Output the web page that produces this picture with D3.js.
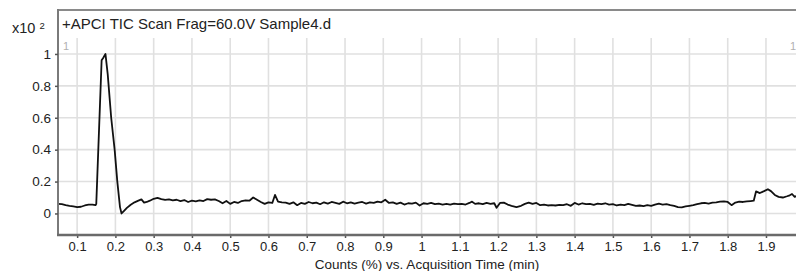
<!DOCTYPE html>
<html>
<head>
<meta charset="utf-8">
<script src="https://cdn.jsdelivr.net/npm/d3@7"></script>
<style>
  body { margin: 0; background: #fff; }
  text { font-family: "Liberation Sans", Arial, sans-serif; fill: #222; }
</style>
</head>
<body>
<div id="chart"></div>
<script>
// TIC trace (time in min, counts in units of x10^2 %)
var traceTime = [
  0.050, 0.060, 0.070, 0.080, 0.090, 0.100, 0.110, 0.120, 0.130, 0.140, 0.148, 0.150,
  0.164, 0.168, 0.174, 0.180, 0.189, 0.198, 0.205, 0.212, 0.216, 0.222, 0.230, 0.240,
  0.250, 0.260, 0.268, 0.275, 0.282, 0.290, 0.300, 0.310, 0.320, 0.330, 0.340, 0.350,
  0.360, 0.370, 0.380, 0.390, 0.400, 0.410, 0.420, 0.430, 0.440, 0.450, 0.460, 0.470,
  0.480, 0.490, 0.500, 0.510, 0.520, 0.530, 0.540, 0.550, 0.560, 0.570, 0.580, 0.590,
  0.600, 0.610, 0.617, 0.625, 0.635, 0.645, 0.655, 0.665, 0.675, 0.685, 0.695, 0.705,
  0.715, 0.725, 0.735, 0.745, 0.755, 0.765, 0.775, 0.785, 0.795, 0.805, 0.815, 0.825,
  0.835, 0.845, 0.855, 0.865, 0.875, 0.885, 0.895, 0.905, 0.915, 0.925, 0.935, 0.945,
  0.955, 0.965, 0.975, 0.985, 0.995, 1.005, 1.015, 1.025, 1.035, 1.045, 1.055, 1.065,
  1.075, 1.085, 1.095, 1.105, 1.115, 1.125, 1.132, 1.140, 1.150, 1.160, 1.170, 1.180,
  1.190, 1.196, 1.205, 1.215, 1.225, 1.235, 1.248, 1.260, 1.270, 1.280, 1.290, 1.300,
  1.310, 1.320, 1.330, 1.340, 1.350, 1.360, 1.370, 1.380, 1.390, 1.400, 1.410, 1.420,
  1.430, 1.440, 1.450, 1.460, 1.470, 1.480, 1.490, 1.500, 1.510, 1.520, 1.530, 1.540,
  1.550, 1.560, 1.570, 1.580, 1.590, 1.600, 1.610, 1.620, 1.630, 1.640, 1.650, 1.660,
  1.670, 1.680, 1.690, 1.700, 1.710, 1.720, 1.730, 1.740, 1.750, 1.760, 1.770, 1.780,
  1.790, 1.800, 1.810, 1.820, 1.830, 1.840, 1.850, 1.860, 1.868, 1.874, 1.884, 1.895,
  1.905, 1.913, 1.923, 1.933, 1.944, 1.955, 1.962, 1.968, 1.975, 1.980
];
var traceCounts = [
  0.060, 0.058, 0.052, 0.048, 0.045, 0.040, 0.042, 0.050, 0.055, 0.055, 0.052, 0.060,
  0.960, 0.975, 1.000, 0.870, 0.600, 0.400, 0.200, 0.040, 0.000, 0.015, 0.035, 0.055,
  0.070, 0.080, 0.088, 0.068, 0.072, 0.080, 0.092, 0.098, 0.090, 0.085, 0.088, 0.082,
  0.086, 0.078, 0.084, 0.072, 0.080, 0.076, 0.082, 0.078, 0.090, 0.086, 0.088, 0.078,
  0.064, 0.078, 0.060, 0.072, 0.066, 0.078, 0.082, 0.080, 0.100, 0.086, 0.072, 0.060,
  0.070, 0.066, 0.116, 0.074, 0.070, 0.068, 0.060, 0.070, 0.052, 0.066, 0.060, 0.072,
  0.064, 0.068, 0.058, 0.070, 0.062, 0.072, 0.066, 0.060, 0.074, 0.064, 0.070, 0.062,
  0.068, 0.072, 0.062, 0.070, 0.066, 0.074, 0.070, 0.086, 0.066, 0.070, 0.060, 0.068,
  0.056, 0.064, 0.062, 0.068, 0.050, 0.064, 0.060, 0.066, 0.058, 0.062, 0.056, 0.060,
  0.055, 0.062, 0.058, 0.060, 0.056, 0.066, 0.074, 0.060, 0.064, 0.058, 0.066, 0.060,
  0.064, 0.036, 0.066, 0.068, 0.056, 0.048, 0.040, 0.048, 0.060, 0.068, 0.060, 0.066,
  0.052, 0.056, 0.050, 0.052, 0.050, 0.054, 0.052, 0.058, 0.048, 0.066, 0.056, 0.064,
  0.058, 0.060, 0.054, 0.062, 0.058, 0.064, 0.056, 0.058, 0.050, 0.056, 0.052, 0.060,
  0.054, 0.048, 0.050, 0.046, 0.052, 0.048, 0.056, 0.062, 0.056, 0.058, 0.052, 0.048,
  0.040, 0.038, 0.044, 0.048, 0.052, 0.058, 0.064, 0.066, 0.062, 0.068, 0.070, 0.074,
  0.076, 0.072, 0.052, 0.068, 0.074, 0.072, 0.076, 0.078, 0.080, 0.138, 0.128, 0.140,
  0.152, 0.140, 0.116, 0.104, 0.100, 0.108, 0.114, 0.122, 0.104, 0.110
];

var xTicks = [0.1, 0.2, 0.3, 0.4, 0.5, 0.6, 0.7, 0.8, 0.9, 1, 1.1, 1.2, 1.3, 1.4, 1.5, 1.6, 1.7, 1.8, 1.9];
var yTicks = [0, 0.2, 0.4, 0.6, 0.8, 1];

var titleText = "+APCI TIC Scan Frag=60.0V Sample4.d";
var xAxisTitle = "Counts (%) vs. Acquisition Time (min)";

var width = 796, height = 271;
var margin = {top: 10, left: 58, bottom: 235, gridTop: 38};

var svg = d3.select("#chart").append("svg")
    .attr("width", width)
    .attr("height", height);

var x = d3.scaleLinear()
    .domain([0.05, 1.98])
    .range([margin.left, width + 0.6]);

var y = d3.scaleLinear()
    .domain([-0.135, 1.1])
    .range([margin.bottom, margin.gridTop]);

// grid
svg.append("g").attr("class", "grid-x")
    .selectAll("line")
    .data(xTicks)
    .join("line")
    .attr("x1", d => x(d)).attr("x2", d => x(d))
    .attr("y1", margin.gridTop).attr("y2", margin.bottom)
    .attr("stroke", "#e0e0e0")
    .attr("stroke-width", 1.6);

svg.append("g").attr("class", "grid-y")
    .selectAll("line")
    .data(yTicks)
    .join("line")
    .attr("x1", margin.left).attr("x2", width)
    .attr("y1", d => y(d)).attr("y2", d => y(d))
    .attr("stroke", "#e0e0e0")
    .attr("stroke-width", 1.6);

// the trace
var line = d3.line()
    .x((d, i) => x(traceTime[i]))
    .y(d => y(d));

svg.append("path")
    .datum(traceCounts)
    .attr("d", line)
    .attr("fill", "none")
    .attr("stroke", "#111")
    .attr("stroke-width", 1.8)
    .attr("stroke-linejoin", "round");

// frame
svg.append("line")
    .attr("x1", margin.left).attr("x2", width)
    .attr("y1", margin.top).attr("y2", margin.top)
    .attr("stroke", "#8a8a8a").attr("stroke-width", 2);

svg.append("line")
    .attr("x1", margin.left).attr("x2", margin.left)
    .attr("y1", margin.top - 1).attr("y2", margin.bottom)
    .attr("stroke", "#7a7a7a").attr("stroke-width", 2);

// axes
var yAxis = d3.axisLeft(y)
    .tickValues(yTicks)
    .tickSize(3)
    .tickPadding(4)
    .tickFormat(d => d3.format("~g")(d));

var gy = svg.append("g")
    .attr("transform", "translate(" + margin.left + ",0)")
    .call(yAxis);
gy.select(".domain").remove();
gy.selectAll(".tick line").attr("stroke", "#555").attr("stroke-width", 1.5);
gy.selectAll(".tick text")
    .style("font-size", "13.5px")
    .attr("fill", "#222");

var xAxis = d3.axisBottom(x)
    .tickValues(xTicks)
    .tickSize(3)
    .tickPadding(4)
    .tickFormat(d => d3.format("~g")(d));

var gx = svg.append("g")
    .attr("transform", "translate(0," + margin.bottom + ")")
    .call(xAxis);
gx.select(".domain").remove();
gx.selectAll(".tick line").attr("stroke", "#555").attr("stroke-width", 1.5);
gx.selectAll(".tick text")
    .style("font-size", "13px")
    .attr("fill", "#222");

svg.append("line")
    .attr("x1", margin.left - 1).attr("x2", width)
    .attr("y1", margin.bottom).attr("y2", margin.bottom)
    .attr("stroke", "#6a6a6a").attr("stroke-width", 2.5);

// texts
svg.append("text")
    .attr("x", 62).attr("y", 29)
    .style("font-size", "15px")
    .text(titleText);

svg.append("text")
    .attr("x", (margin.left + width) / 2).attr("y", 269)
    .attr("text-anchor", "middle")
    .style("font-size", "13.5px")
    .text(xAxisTitle);

var mult = svg.append("text")
    .attr("x", 12).attr("y", 33)
    .style("font-size", "14.5px");
mult.append("tspan").text("x10 ");
mult.append("tspan").attr("dy", -4).style("font-size", "9.5px").text("2");

// little "1" markers in the corners of the plot area
svg.selectAll(".marker")
    .data([{x: 63, anchor: "start"}, {x: 796, anchor: "end"}])
    .join("text")
    .attr("class", "marker")
    .attr("x", d => d.x).attr("y", 50)
    .attr("text-anchor", d => d.anchor)
    .style("font-size", "11px")
    .style("fill", "#b0b0b0")
    .text("1");
</script>
</body>
</html>
